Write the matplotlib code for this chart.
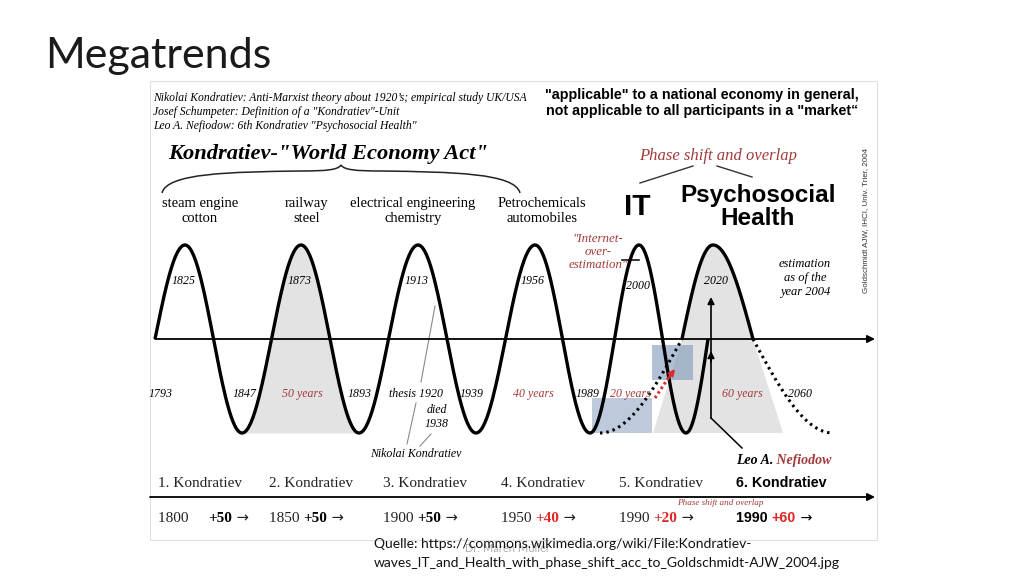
import numpy as np
import matplotlib
matplotlib.use("Agg")
import matplotlib.pyplot as plt
from matplotlib.path import Path
from matplotlib.patches import PathPatch, Rectangle, Polygon

SERIF = ['Liberation Serif', 'DejaVu Serif']
SANS = ['Liberation Sans', 'DejaVu Sans']
SLIDE = ['Lato', 'DejaVu Sans']
DARKRED = '#a33a3a'
RED = '#e02828'

# wave turning points (position along the time axis, level -1..1)
turn_x = [155, 185, 242, 301, 359, 418, 476, 535, 590, 639, 686, 708]
turn_level = [0, 1, -1, 1, -1, 1, -1, 1, -1, 1, -1, 0]
sixth_x = [682, 713, 753]
sixth_level = [0, 1, 0]
dot_left_x = [600, 682]
dot_left_level = [-1, 0]
dot_right_x = [753, 833]
dot_right_level = [0, -1]

header_lines = ['Nikolai Kondratiev: Anti-Marxist theory about 1920\u2019s; empirical study UK/USA',
                'Josef Schumpeter: Definition of a "Kondratiev"-Unit',
                'Leo A. Nefiodow: 6th Kondratiev "Psychosocial Health"']
industries = ['steam engine\ncotton', 'railway\nsteel',
              'electrical engineering\nchemistry', 'Petrochemicals\nautomobiles']
upper_years = ['1825', '1873', '1913', '1956', '2000', '2020']
lower_labels = ['1793', '1847', '50 years', '1893', 'thesis 1920', '1939',
                '40 years', '1989', '20 years', '60 years', '2060']
lower_is_span = [False, False, True, False, False, False, True, False, True, True, False]
waves = ['1. Kondratiev', '2. Kondratiev', '3. Kondratiev',
         '4. Kondratiev', '5. Kondratiev', '6. Kondratiev']
start_years = ['1800', '1850', '1900', '1950', '1990', '1990']
durations = ['+50', '+50', '+50', '+40', '+20', '+60']
dur_red = [False, False, False, True, True, True]

# layout
AX_Y = 339
AMP = 94
BOTTOM = AX_Y + AMP


def curve(xs, levels, n=60):
    px, py = [], []
    for i in range(len(xs) - 1):
        x0, l0, x1, l1 = xs[i], levels[i], xs[i + 1], levels[i + 1]
        t = np.linspace(0, 1, n)
        if l0 != 0 and l1 != 0:
            lv = l0 * np.cos(np.pi * t)
        elif l0 == 0:
            lv = l1 * np.sin(np.pi / 2 * t)
        else:
            lv = l0 * np.cos(np.pi / 2 * t)
        px.extend(x0 + (x1 - x0) * t)
        py.extend(AX_Y - AMP * lv)
    return np.array(px), np.array(py)


fig = plt.figure(figsize=(10.24, 5.76), dpi=100)
ax = fig.add_axes([0, 0, 1, 1])
ax.set_xlim(0, 1024)
ax.set_ylim(576, 0)
ax.axis('off')
renderer = fig.canvas.get_renderer()


def chain(x, y, parts, **kw):
    # parts: list of (text, dict of extra props)
    for txt, extra in parts:
        props = dict(kw)
        props.update(extra)
        t = ax.text(x, y, txt, ha='left', va='baseline', **props)
        bb = t.get_window_extent(renderer)
        x = ax.transData.inverted().transform((bb.x1, bb.y0))[0]


# slide title and picture frame
ax.text(45, 68, 'Megatrends', family=SLIDE, fontsize=31, fontweight='normal',
        ha='left', va='baseline', color='#1a1a1a')
ax.add_patch(Rectangle((150, 81), 727, 459, fill=False, ec='#e0e0e0', lw=0.8))

# header
for i, line in enumerate(header_lines):
    ax.text(153, 101 + i * 14, line, family=SERIF, style='italic', fontsize=8.4,
            ha='left', va='baseline')
ax.text(168, 159, 'Kondratiev-"World Economy Act"', family=SERIF, style='italic',
        fontweight='bold', fontsize=16.2, ha='left', va='baseline')
ax.text(702, 103, '"applicable" to a national economy in general,\nnot applicable to all participants in a "market\u201c',
        family=SANS, fontweight='bold', fontsize=10.3, ha='center', va='center',
        linespacing=1.15)

# brace
brace = Path([(162, 193), (167, 173), (230, 172), (300, 171),
              (326, 171), (338, 170), (341, 165),
              (344, 170), (356, 171), (382, 171),
              (452, 172), (515, 173), (520, 193)],
             [Path.MOVETO, Path.CURVE4, Path.CURVE4, Path.CURVE4,
              Path.CURVE4, Path.CURVE4, Path.CURVE4,
              Path.CURVE4, Path.CURVE4, Path.CURVE4,
              Path.CURVE4, Path.CURVE4, Path.CURVE4])
ax.add_patch(PathPatch(brace, fill=False, lw=1.1, ec='#222222'))

ind_x = [200, 307, 413, 542]
for lab, xc in zip(industries, ind_x):
    ax.text(xc, 211, lab, family=SERIF, fontsize=10.5, ha='center', va='center',
            linespacing=1.12)

ax.text(718, 156, 'Phase shift and overlap', family=SERIF, style='italic',
        fontsize=12, color=DARKRED, ha='center', va='center')
ax.plot([640, 693], [183, 166], color='#333333', lw=1)
ax.plot([717, 752], [166, 177], color='#333333', lw=1)
ax.text(637, 207, 'IT', family=SANS, fontweight='bold', fontsize=21.5,
        ha='center', va='center')
ax.text(758, 207, 'Psychosocial\nHealth', family=SANS, fontweight='bold',
        fontsize=17.5, ha='center', va='center', linespacing=1.05)
ax.text(866, 220, 'Goldschmidt AJW, IHCI, Univ. Trier, 2004', family=SANS,
        fontsize=5.8, rotation=90, ha='center', va='center', color='#333333')

# shaded wave periods
wx, wy = curve(turn_x, turn_level)
sel = (wx >= 242) & (wx <= 359)
ax.fill_between(wx[sel], wy[sel], BOTTOM, color='#e3e3e3', lw=0, zorder=1)
sx, sy = curve(sixth_x, sixth_level)
poly = np.vstack([np.column_stack([sx, sy]),
                  [[783, BOTTOM], [653, BOTTOM]]])
ax.add_patch(Polygon(poly, closed=True, fc='#e3e3e3', ec='none', zorder=1))
ax.add_patch(Rectangle((592, 398), 60, BOTTOM - 398, fc='#7f97ba', alpha=0.5,
                       ec='none', zorder=2))
ax.add_patch(Rectangle((652, 345), 41, 35, fc='#7f97ba', alpha=0.6,
                       ec='none', zorder=2))

# time axis and waves
ax.annotate('', xy=(875, AX_Y), xytext=(155, AX_Y),
            arrowprops=dict(arrowstyle='-|>', lw=1.3, color='black',
                            mutation_scale=11, shrinkA=0, shrinkB=0), zorder=3)
ax.plot(wx, wy, color='black', lw=2.4, zorder=4, solid_capstyle='butt')
ax.plot(sx, sy, color='black', lw=2.4, zorder=4, solid_capstyle='butt')
for xs, ls in [(dot_left_x, dot_left_level), (dot_right_x, dot_right_level)]:
    dx, dy = curve(xs, ls)
    ax.plot(dx, dy, color='black', lw=2.2, ls=(0, (0.8, 1.3)), zorder=4)
ax.plot([655, 671], [398, 374], color=RED, lw=2.2, ls=(0, (0.8, 1.0)), zorder=5)
ax.annotate('', xy=(675, 369), xytext=(669, 377),
            arrowprops=dict(arrowstyle='-|>', color=RED, lw=1.5,
                            mutation_scale=9, shrinkA=0, shrinkB=0), zorder=5)

# Nefiodow pointer
ax.annotate('', xy=(711, 297), xytext=(711, 418),
            arrowprops=dict(arrowstyle='-|>', lw=1.2, color='black',
                            mutation_scale=10, shrinkA=0, shrinkB=0), zorder=5)
ax.annotate('', xy=(711, 351), xytext=(711, 362),
            arrowprops=dict(arrowstyle='-|>', lw=1.2, color='black',
                            mutation_scale=10, shrinkA=0, shrinkB=0), zorder=5)
ax.plot([711, 742], [418, 448], color='black', lw=1.1, zorder=5)

# wave annotations
up_x = [184, 300, 417, 533, 638, 716]
up_y = [281, 281, 281, 281, 286, 281]
for lab, xc, yc in zip(upper_years, up_x, up_y):
    ax.text(xc, yc, lab, family=SERIF, style='italic', fontsize=8.6,
            ha='center', va='center', zorder=6)
low_x = [161, 245, 302, 360, 416, 472, 533, 588, 630, 742, 800]
for lab, xc, span in zip(lower_labels, low_x, lower_is_span):
    ax.text(xc, 394, lab, family=SERIF, style='italic', fontsize=8.6,
            color=DARKRED if span else 'black', ha='center', va='center', zorder=6)
ax.text(437, 417, 'died\n1938', family=SERIF, style='italic', fontsize=8.6,
        ha='center', va='center', linespacing=1.25, zorder=6)
ax.text(416, 454, 'Nikolai Kondratiev', family=SERIF, style='italic',
        fontsize=8.6, ha='center', va='center', zorder=6)
for xy in [((435, 306), (421, 382)), ((416, 403), (407, 444)), ((431, 434), (420, 446))]:
    ax.plot([xy[0][0], xy[1][0]], [xy[0][1], xy[1][1]], color='#8a8a8a', lw=0.8)
ax.text(598, 252, '"Internet-\nover-\nestimation"', family=SERIF, style='italic',
        fontsize=9.3, color=DARKRED, ha='center', va='center', linespacing=1.12)
ax.plot([622, 639], [260, 260], color='black', lw=1.1)
ax.text(805, 278, 'estimation\nas of the\nyear 2004', family=SERIF, style='italic',
        fontsize=9, ha='center', va='center', linespacing=1.25)
chain(736, 464, [('Leo A.', {}), (' Nefiodow', {'color': DARKRED})],
      family=SERIF, style='italic', fontweight='bold', fontsize=10)

# Kondratiev timeline
ax.annotate('', xy=(875, 497), xytext=(150, 497),
            arrowprops=dict(arrowstyle='-|>', lw=1.3, color='black',
                            mutation_scale=11, shrinkA=0, shrinkB=0))
kx = [158, 269, 383, 501, 619, 736]
for i, (w, yr, d) in enumerate(zip(waves, start_years, durations)):
    if i < 5:
        ax.text(kx[i], 487, w, family=SERIF, fontsize=11, ha='left', va='baseline',
                color='#222222')
        gap = '     ' if i == 0 else ' '
        chain(kx[i], 522, [(yr + gap, {}),
                           (d, {'fontweight': 'bold', 'color': RED if dur_red[i] else 'black'}),
                           (' \u2192', {'family': ['DejaVu Sans'], 'fontsize': 10.5})],
              family=SERIF, fontsize=11, color='#222222')
    else:
        ax.text(kx[i], 487, w, family=SANS, fontweight='bold', fontsize=10.3,
                ha='left', va='baseline')
        chain(kx[i], 522, [(yr + ' ', {}), (d, {'color': RED}),
                           (' \u2192', {'family': ['DejaVu Sans'], 'fontweight': 'normal'})],
              family=SANS, fontweight='bold', fontsize=10.3)
ax.text(720, 503, 'Phase shift and overlap', family=SERIF, style='italic',
        fontsize=6.6, color=DARKRED, ha='center', va='center')

# footer
ax.text(507, 549, 'Dr. Maren M\u00fcller', family=SLIDE, fontsize=8, color='#b0b0b0',
        ha='center', va='center', zorder=0)
ax.text(374, 548, 'Quelle: https://commons.wikimedia.org/wiki/File:Kondratiev-',
        family=SLIDE, fontsize=10.0, ha='left', va='baseline', color='#111111')
ax.text(374, 567, 'waves_IT_and_Health_with_phase_shift_acc_to_Goldschmidt-AJW_2004.jpg',
        family=SLIDE, fontsize=10.0, ha='left', va='baseline', color='#111111')

fig.savefig('out.png', dpi=100)
